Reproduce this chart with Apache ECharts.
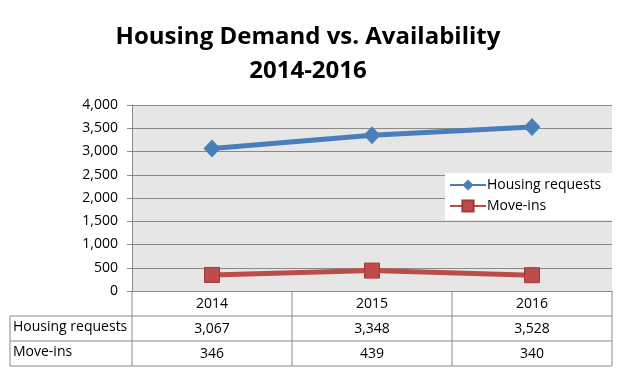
<!DOCTYPE html>
<html><head><meta charset="utf-8">
<script src="https://cdn.jsdelivr.net/npm/echarts@6/dist/echarts.min.js"></script>
<style>html,body{margin:0;padding:0;background:#fff}#c{width:624px;height:390px}</style>
</head><body><div id="c"></div>
<script>
const years = ['2014', '2015', '2016'];
const housingRequests = [3067, 3348, 3528];
const moveIns = [346, 439, 340];
const seriesNames = ['Housing requests', 'Move-ins'];
const yTicks = {min: 0, max: 4000, interval: 500};

const fmt = v => v.toLocaleString('en-US');
const FONT = 'Open Sans';
const chart = echarts.init(document.getElementById('c'));

const gL = 132, gR = 612, gT = 105, gB = 291;
const rowH = 25;
const tableBottom = gB + rowH * 3;
const colW = (gR - gL) / years.length;
const lineStyle = {stroke: '#8a8a8a', lineWidth: 1};
const graphics = [];
graphics.push({type: 'line', shape: {x1: 10, y1: gB + rowH, x2: gR, y2: gB + rowH}, style: lineStyle, silent: true});
graphics.push({type: 'line', shape: {x1: 10, y1: gB + rowH * 2, x2: gR, y2: gB + rowH * 2}, style: lineStyle, silent: true});
graphics.push({type: 'line', shape: {x1: 10, y1: tableBottom, x2: gR, y2: tableBottom}, style: lineStyle, silent: true});
graphics.push({type: 'line', shape: {x1: 10, y1: gB + rowH, x2: 10, y2: tableBottom}, style: lineStyle, silent: true});
for (let i = 0; i <= years.length; i++) {
  const x = gL + colW * i;
  graphics.push({type: 'line', shape: {x1: x, y1: gB, x2: x, y2: tableBottom}, style: lineStyle, silent: true});
}
seriesNames.forEach((n, i) => {
  graphics.push({type: 'text', left: 13, top: gB + rowH * (i + 1) + 4,
    style: {text: n, font: '14px "' + FONT + '"', fill: '#000'}, silent: true});
});

chart.setOption({
  backgroundColor: '#fff',
  animation: false,
  title: {
    text: 'Housing Demand vs. Availability\n2014-2016',
    left: 303, top: 15, textAlign: 'center',
    textStyle: {fontFamily: FONT, fontWeight: 'bold', fontSize: 24, color: '#000', lineHeight: 34}
  },
  grid: {left: gL, right: 624 - gR, top: gT, bottom: 390 - gB, show: true,
         backgroundColor: '#e6e6e6', borderWidth: 0},
  legend: {
    orient: 'vertical', left: 445, top: 173, width: 167,
    backgroundColor: '#fff', padding: [5, 12, 7, 4], itemGap: 7,
    itemWidth: 36, itemHeight: 14,
    textStyle: {fontFamily: FONT, fontSize: 14, color: '#000', padding: [0, 0, 0, -4]},
    data: seriesNames
  },
  xAxis: {
    type: 'category', data: years, boundaryGap: true,
    axisLine: {lineStyle: {color: '#8a8a8a', width: 1}},
    axisTick: {show: false},
    axisLabel: {
      margin: 1, interval: 0,
      formatter: (v, idx) => `{a|${v}}\n{a|${fmt(housingRequests[idx])}}\n{a|${fmt(moveIns[idx])}}`,
      rich: {a: {fontFamily: FONT, fontSize: 14, color: '#000', lineHeight: rowH, align: 'center'}}
    }
  },
  yAxis: {
    type: 'value', min: yTicks.min, max: yTicks.max, interval: yTicks.interval,
    axisLine: {show: true, lineStyle: {color: '#8a8a8a', width: 1}},
    axisTick: {show: true, length: 5, inside: false, lineStyle: {color: '#8a8a8a'}},
    axisLabel: {fontFamily: FONT, fontSize: 14, color: '#000', margin: 14, formatter: v => fmt(v)},
    splitLine: {show: true, lineStyle: {color: '#8a8a8a', width: 1}}
  },
  series: [
    {name: seriesNames[0], type: 'line', data: housingRequests,
     symbol: 'diamond', symbolSize: [17, 18], color: '#4a7ebb',
     lineStyle: {width: 5, color: '#4a7ebb'}, itemStyle: {color: '#4a7ebb'}},
    {name: seriesNames[1], type: 'line', data: moveIns,
     symbol: 'rect', symbolSize: [15, 15], color: '#be4b48',
     lineStyle: {width: 5, color: '#be4b48'}, itemStyle: {color: '#be4b48', borderColor: '#a33a37', borderWidth: 1}}
  ],
  graphic: graphics
});
</script></body></html>
